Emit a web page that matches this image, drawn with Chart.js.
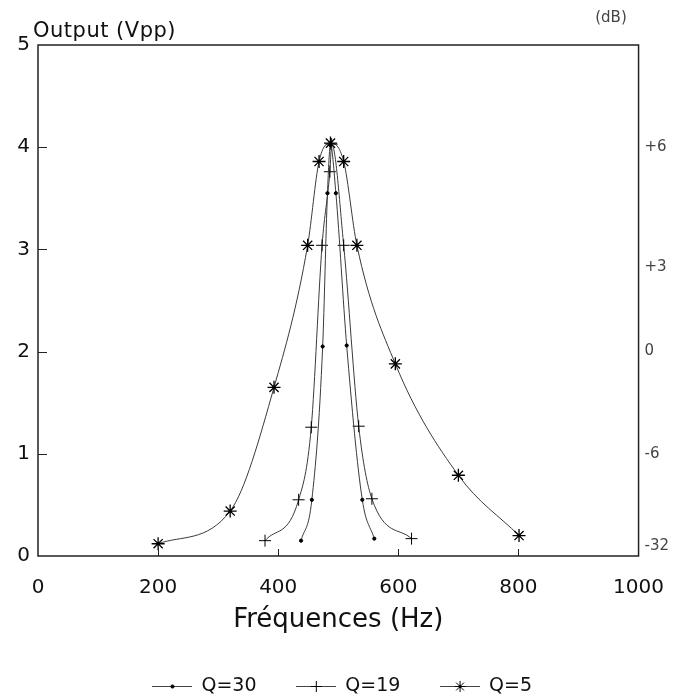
<!DOCTYPE html>
<html>
<head>
<meta charset="utf-8">
<title>Réponse en fréquence</title>
<script src="https://cdn.jsdelivr.net/npm/chart.js@4"></script>
<style>
  html, body { margin: 0; background: #fff; }
  #wrap { width: 684px; height: 698px; }
</style>
</head>
<body>
<div id="wrap"><canvas id="freqChart"></canvas></div>
<script>
// Mesures : fréquence (Hz) et tension de sortie (Vpp) pour chaque Q
const freqQ30 = [438, 456, 474, 482, 487, 496, 514, 540, 560];
const voutQ30 = [0.15, 0.55, 2.05, 3.55, 4.02, 3.55, 2.06, 0.55, 0.17];

const freqQ19 = [378, 434, 455, 473, 486, 489, 509, 534, 556, 622];
const voutQ19 = [0.15, 0.55, 1.26, 3.04, 3.76, 4.03, 3.04, 1.27, 0.56, 0.17];

const freqQ5 = [200, 320, 393, 449, 468, 487, 509, 531, 595, 700, 801];
const voutQ5 = [0.12, 0.44, 1.65, 3.04, 3.86, 4.04, 3.86, 3.04, 1.88, 0.79, 0.2];

// Échelle en dB à droite (0 dB = 2 Vpp)
const dbPositions = [4.0, 2.83, 2.0, 1.0, 0.1];
const dbLabels = ['+6', '+3', '0', '-6', '-32'];

Chart.defaults.font.family = "'DejaVu Sans', sans-serif";
Chart.defaults.color = '#111';

function toPoints(xs, ys) {
    return xs.map((x, i) => ({ x: x, y: ys[i] }));
}

// Petite icône de légende : trait + symbole
function legendIcon(style, radius) {
    const cv = document.createElement('canvas');
    cv.width = 40;
    cv.height = 15;
    const g = cv.getContext('2d');
    g.strokeStyle = '#444';
    g.lineWidth = 1;
    g.beginPath();
    g.moveTo(0, 7.5);
    g.lineTo(40, 7.5);
    g.stroke();
    g.strokeStyle = '#000';
    g.fillStyle = '#000';
    Chart.helpers.drawPoint(g, { pointStyle: style, radius: radius, borderWidth: 1.3, rotation: 0 }, 20.5, 7.5);
    return cv;
}

// Cadre, graduations intérieures et textes d'axes
const frameAndNotes = {
    id: 'frameAndNotes',
    afterDraw(chart) {
        const { ctx, chartArea: a, scales } = chart;
        ctx.save();
        ctx.strokeStyle = '#222';
        ctx.lineWidth = 1.5;
        ctx.strokeRect(a.left, a.top, a.right - a.left, a.bottom - a.top);

        ctx.lineWidth = 1;
        ctx.beginPath();
        scales.x.ticks.forEach(t => {
            if (t.value <= 0 || t.value >= 1000) return;
            const px = Math.round(scales.x.getPixelForValue(t.value)) + 0.5;
            ctx.moveTo(px, a.bottom);
            ctx.lineTo(px, a.bottom - 7);
        });
        scales.y.ticks.forEach(t => {
            if (t.value <= 0 || t.value >= 5) return;
            const py = Math.round(scales.y.getPixelForValue(t.value)) + 0.5;
            ctx.moveTo(a.left, py);
            ctx.lineTo(a.left + 9, py);
        });
        ctx.stroke();

        ctx.fillStyle = '#111';
        ctx.textBaseline = 'middle';
        ctx.textAlign = 'left';
        ctx.font = "21px 'DejaVu Sans', sans-serif";
        ctx.letterSpacing = '0.5px';
        ctx.fillText('Output (Vpp)', 33, 32);
        ctx.letterSpacing = '0px';

        ctx.fillStyle = '#444';
        ctx.textAlign = 'center';
        ctx.font = "15px 'DejaVu Sans', sans-serif";
        ctx.fillText('(dB)', 611, 18);
        ctx.restore();
    }
};

// Réglages communs des courbes lissées
const curveStyle = {
    showLine: true,
    borderColor: '#3a3a3a',
    borderWidth: 1,
    cubicInterpolationMode: 'monotone',
    pointBorderColor: '#000'
};

const ctxFreq = document.getElementById('freqChart').getContext('2d');

const freqChart = new Chart(ctxFreq, {
    type: 'scatter',
    data: {
        datasets: [{
            ...curveStyle,
            label: 'Q=30',
            data: toPoints(freqQ30, voutQ30),
            pointStyle: 'circle',
            pointRadius: 1.6,
            pointBackgroundColor: '#000'
        }, {
            ...curveStyle,
            label: 'Q=19',
            data: toPoints(freqQ19, voutQ19),
            pointStyle: 'cross',
            pointRadius: 6,
            pointBorderWidth: 1
        }, {
            ...curveStyle,
            label: 'Q=5',
            data: toPoints(freqQ5, voutQ5),
            pointStyle: 'star',
            pointRadius: 6.5,
            pointBorderWidth: 1.3
        }]
    },
    options: {
        responsive: true,
        maintainAspectRatio: false,
        animation: false,
        layout: { padding: { top: 45, left: 0, right: 0, bottom: -8 } },
        scales: {
            x: {
                type: 'linear',
                min: 0,
                max: 1000,
                grid: { display: false, drawTicks: false },
                border: { display: false },
                ticks: {
                    stepSize: 200,
                    autoSkip: false,
                    maxRotation: 0,
                    padding: 20,
                    font: { size: 20 },
                    callback: v => String(v)
                },
                title: {
                    display: true,
                    text: 'Fréquences (Hz)',
                    font: { size: 26 },
                    padding: { top: 0, bottom: 38 }
                },
                afterFit: s => { s.height = 118; }
            },
            y: {
                min: 0,
                max: 5,
                grid: { display: false, drawTicks: false },
                border: { display: false },
                ticks: { stepSize: 1, padding: 8, font: { size: 20 } },
                afterFit: s => { s.width = 38; }
            },
            y2: {
                position: 'right',
                min: 0,
                max: 5,
                grid: { display: false, drawTicks: false },
                border: { display: false },
                afterBuildTicks: s => { s.ticks = dbPositions.map(v => ({ value: v })); },
                ticks: {
                    autoSkip: false,
                    padding: 6,
                    color: '#444',
                    font: { size: 15 },
                    callback: (v, i) => dbLabels[i]
                },
                afterFit: s => { s.width = 44; }
            }
        },
        plugins: {
            legend: {
                display: true,
                position: 'bottom',
                labels: {
                    usePointStyle: true,
                    pointStyleWidth: 40,
                    padding: 3,
                    font: { size: 19 },
                    color: '#111',
                    generateLabels: chart => chart.data.datasets.map((ds, i) => ({
                        text: ds.label + (i < chart.data.datasets.length - 1 ? '      ' : ''),
                        pointStyle: legendIcon(ds.pointStyle, ds.pointStyle === 'circle' ? 1.6 : 5.5),
                        fillStyle: 'rgba(0,0,0,0)',
                        strokeStyle: 'rgba(0,0,0,0)',
                        lineWidth: 0,
                        fontColor: '#111',
                        hidden: false,
                        datasetIndex: i
                    }))
                }
            },
            tooltip: { enabled: false }
        }
    },
    plugins: [frameAndNotes]
});
</script>
</body>
</html>
